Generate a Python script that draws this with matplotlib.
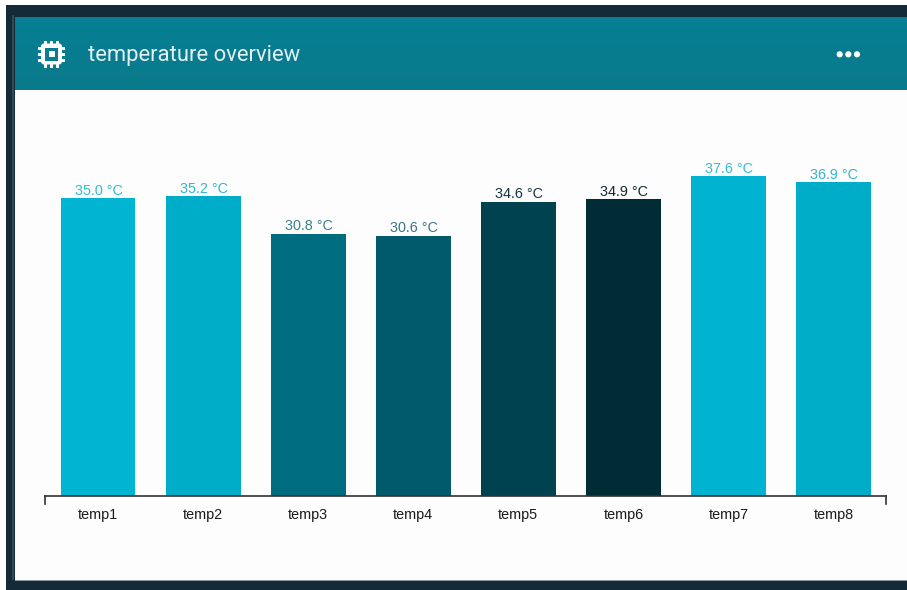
# temperature overview card: header bar with chip icon, bar chart below
import matplotlib
matplotlib.use("Agg")
import matplotlib.pyplot as plt
import numpy as np
from matplotlib.patches import Rectangle, FancyBboxPatch, Circle

sensors = ["temp1", "temp2", "temp3", "temp4", "temp5", "temp6", "temp7", "temp8"]
temps = [35.0, 35.2, 30.8, 30.6, 34.6, 34.9, 37.6, 36.9]
bar_colors = ["#00b5d2", "#00adc9", "#006c80", "#005a6b", "#00424f", "#002c36", "#00b3d0", "#00adc9"]
label_colors = ["#33bcd6", "#33b6d0", "#3a8090", "#3a7484", "#12343f", "#0f2a33", "#33bcd6", "#33b6d0"]

W, H = 907, 590
fig = plt.figure(figsize=(W / 100, H / 100), dpi=100, facecolor="white")

# card layer in pixel coordinates
bg = fig.add_axes([0, 0, 1, 1])
bg.set_xlim(0, W)
bg.set_ylim(H, 0)
bg.axis("off")

bg.add_patch(Rectangle((6, 5), W - 6, H - 5, fc="#152a38", ec="none"))
bg.add_patch(Rectangle((12, 15), 1.5, H - 25, fc="#34495a", ec="none"))
bg.add_patch(Rectangle((15, 90), W - 15, 490, fc="#fdfdfd", ec="none"))
bg.add_patch(Rectangle((15, 580), W - 15, 1, fc="#8a98a0", ec="none"))

# header gradient
grad = np.linspace(0, 1, 64).reshape(-1, 1)
header_cmap = matplotlib.colors.LinearSegmentedColormap.from_list("header", ["#067f94", "#0a7a8b"])
bg.imshow(grad, extent=(15, W, 90, 17), cmap=header_cmap, aspect="auto", zorder=1)
bg.set_xlim(0, W)
bg.set_ylim(H, 0)

# chip icon
cx, cy = 51.5, 54
for off in (-6, 0, 6):
    bg.add_patch(Rectangle((cx + off - 1.5, cy - 13.5), 3, 27, fc="white", ec="none", zorder=2))
    bg.add_patch(Rectangle((cx - 13.5, cy + off - 1.5), 27, 3, fc="white", ec="none", zorder=2))
bg.add_patch(FancyBboxPatch((cx - 10.5, cy - 10.5), 21, 21, boxstyle="round,pad=0,rounding_size=3",
                            fc="white", ec="none", zorder=3))
bg.add_patch(Rectangle((cx - 6.5, cy - 6.5), 13, 13, fc="#067d91", ec="none", zorder=4))
bg.add_patch(Rectangle((cx - 3, cy - 3), 6, 6, fc="white", ec="none", zorder=5))

bg.text(88, 55.2, "temperature overview", color="#e4f0f2", fontsize=15.8, family="Roboto",
        va="center", ha="left", zorder=3)

# menu dots
for dx in (839.7, 848.3, 857):
    bg.add_patch(Circle((dx, 54.3), 3.1, fc="white", ec="none", zorder=3))

# bar chart
left, right, top, bottom = 45, 886, 120, 496
px_per_deg = 8.51
ax = fig.add_axes([left / W, 1 - bottom / H, (right - left) / W, (bottom - top) / H])
ax.patch.set_alpha(0)
x = np.arange(len(sensors))
x_range = (-0.505, len(sensors) - 0.5)
y_range = (0, (bottom - top) / px_per_deg)
ax.bar(x, temps, width=0.712, color=bar_colors)

for xi, t, c in zip(x, temps, label_colors):
    ax.text(xi + 0.005, t + 0.05, f"{t:.1f} °C", ha="center", va="bottom", color=c,
            fontsize=10.4, family="Liberation Sans")

for side in ("top", "left", "right"):
    ax.spines[side].set_visible(False)
ax.spines["bottom"].set_color("#333333")
ax.spines["bottom"].set_linewidth(1.2)
ax.set_yticks([])
ax.set_xticks(x)
ax.set_xticklabels(sensors, fontsize=10.4, family="Liberation Sans", color="#1a1a1a")
ax.tick_params(axis="x", length=0, pad=9)

# end caps of the axis line
for end in x_range:
    ax.plot([end, end], [0, -8 / px_per_deg], color="#333333", lw=1.2, clip_on=False)
ax.set_xlim(*x_range)
ax.set_ylim(*y_range)

fig.savefig("out.png", dpi=100)
